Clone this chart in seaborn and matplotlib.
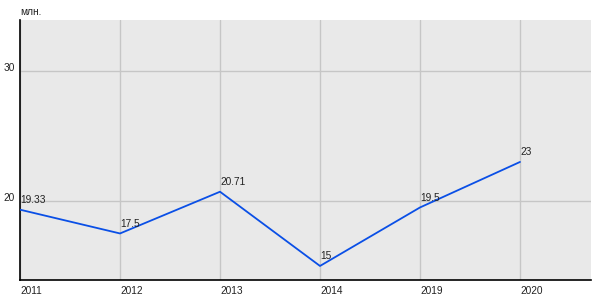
import matplotlib
matplotlib.use("Agg")
import matplotlib.pyplot as plt
import matplotlib.transforms as mtransforms
import seaborn as sns
import pandas as pd

years = ["2011", "2012", "2013", "2014", "2019", "2020"]
values = [19.33, 17.5, 20.71, 15, 19.5, 23]
labels = ["19.33", "17.5", "20.71", "15", "19.5", "23"]
y_ticks = [20, 30]
unit = "млн."

sns.set_theme(style="white")
plt.rcParams['font.family'] = ['Liberation Sans', 'DejaVu Sans']

df = pd.DataFrame({"x": range(len(years)), "y": values})

fig = plt.figure(figsize=(6, 3), dpi=100)
ax = fig.add_axes([20/600, 20/300, 571/600, 260/300])
ax.set_facecolor("#e9e9e9")

sns.lineplot(data=df, x="x", y="y", ax=ax, color="#0a4fe6", linewidth=1.3, zorder=3)

ax.set_xlim(0, 5.71)
ax.set_ylim(13.92, 33.92)
ax.set_xticks(range(len(years)))
ax.set_xticklabels(years, ha="left")
ax.set_yticks(y_ticks)
ax.grid(True, color="#c6c6c6", linewidth=1)
ax.set_axisbelow(True)
ax.set_xlabel("")
ax.set_ylabel("")

for s in ["top", "right"]:
    ax.spines[s].set_visible(False)
for s in ["left", "bottom"]:
    ax.spines[s].set_color("black")
    ax.spines[s].set_linewidth(1.2)

fs = 7.3
ax.tick_params(axis="x", length=0, pad=4, labelsize=fs, colors="#222222")
ax.tick_params(axis="y", length=3, width=0.8, pad=1, labelsize=fs, colors="#222222", direction="out")
offset = mtransforms.ScaledTranslation(0, 3/100, fig.dpi_scale_trans)
for t in ax.get_yticklabels():
    t.set_va("center")
    t.set_transform(t.get_transform() + offset)

for i, (v, lab) in enumerate(zip(values, labels)):
    ax.annotate(lab, (i, v), xytext=(0, 3.5), textcoords="offset points",
                ha="left", va="bottom", fontsize=fs, color="#222222", zorder=4)

fig.text(20/600, 1 - 12/300, unit, ha="left", va="center", fontsize=fs, color="#222222")

fig.savefig("out.png", dpi=100)
